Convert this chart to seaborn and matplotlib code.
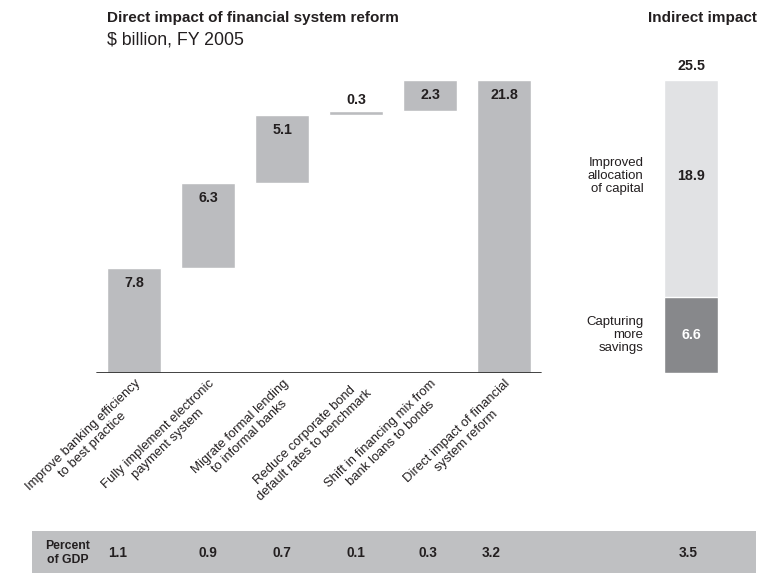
import matplotlib
matplotlib.use("Agg")
import matplotlib.pyplot as plt
import matplotlib.transforms as mtransforms
from matplotlib.patches import Rectangle
import seaborn as sns
import numpy as np

sns.set_theme(style="white")
plt.rcParams['font.family'] = ['Liberation Sans', 'DejaVu Sans']

# ---- data ----
categories = [
    "Improve banking efficiency\nto best practice",
    "Fully implement electronic\npayment system",
    "Migrate formal lending\nto informal banks",
    "Reduce corporate bond\ndefault rates to benchmark",
    "Shift in financing mix from\nbank loans to bonds",
    "Direct impact of financial\nsystem reform",
]
values = [7.8, 6.3, 5.1, 0.3, 2.3, 21.8]
value_labels = ["7.8", "6.3", "5.1", "0.3", "2.3", "21.8"]
pct_gdp = ["1.1", "0.9", "0.7", "0.1", "0.3", "3.2"]

indirect_parts = ["Capturing\nmore\nsavings", "Improved\nallocation\nof capital"]
indirect_values = [6.6, 18.9]
indirect_total = 25.5
indirect_pct = "3.5"

TXT = "#231f20"
BAR = "#bbbcbf"
LIGHT = "#e1e2e4"
DARK = "#87888b"
BAND = "#bfc0c2"

W, H = 774, 573
fig = plt.figure(figsize=(W / 100, H / 100), dpi=100)

def fx(px):
    return px / W

def fy(py):
    return 1 - py / H

# main axes
ax = fig.add_axes([fx(90), fy(373), fx(455), 313 / H])
bases = [0.0, values[0], values[0] + values[1], values[0] + values[1] + values[2],
         values[0] + values[1] + values[2] + values[3], 0.0]

sns.barplot(x=list(range(len(values))), y=values, bottom=bases, color=BAR,
            width=0.73, saturation=1, ax=ax, native_scale=True)
ax.set_xlim(-0.6, 5.55)
px_per_unit = 13.44
ax.set_ylim(0, 313 / px_per_unit)
for s in ax.spines.values():
    s.set_visible(False)
ax.axhline(0, xmin=(97 - 90) / 455, xmax=(541 - 90) / 455, color="#333333", lw=1.3)
ax.set_yticks([])
ax.set_xticks(range(len(categories)))
ax.set_xticklabels(categories, rotation=44, ha="right", rotation_mode="anchor",
                   fontsize=9.4, color=TXT, multialignment="center", linespacing=1.2)
ax.tick_params(axis="x", length=0, pad=3)

for i, (v, b, lab) in enumerate(zip(values, bases, value_labels)):
    top = b + v
    if v < 1:
        y = top + 11 / px_per_unit
    else:
        y = top - 15 / px_per_unit
    ax.text(i, y, lab, ha="center", va="center", fontsize=10.3, fontweight="bold", color=TXT)

# right axes (indirect)
ax2 = fig.add_axes([fx(638), fy(373), fx(106), 313 / H])
sns.barplot(x=[0], y=[indirect_total], color=LIGHT, width=1.02, saturation=1, ax=ax2,
            native_scale=True)
sns.barplot(x=[0], y=[indirect_values[0]], color=DARK, width=1.02, saturation=1, ax=ax2,
            native_scale=True)
ax2.set_xlim(-1, 1)
ppu2 = 11.49
ax2.set_ylim(0, 313 / ppu2)
ax2.axis("off")
ax2.text(0, indirect_total + 14 / ppu2, f"{indirect_total}", ha="center", va="center",
         fontsize=10.3, fontweight="bold", color=TXT)
y_alloc = indirect_values[0] + indirect_values[1] / 2 + 13 / ppu2
ax2.text(0, y_alloc, f"{indirect_values[1]}",
         ha="center", va="center", fontsize=10.3, fontweight="bold", color=TXT)
ax2.text(0, indirect_values[0] / 2, f"{indirect_values[0]}", ha="center", va="center",
         fontsize=10.3, fontweight="bold", color="white")
ax2.text(-0.9, y_alloc, indirect_parts[1],
         ha="right", va="center", fontsize=9.5, color=TXT, linespacing=1.12)
ax2.text(-0.9, indirect_values[0] / 2, indirect_parts[0],
         ha="right", va="center", fontsize=9.5, color=TXT, linespacing=1.12)

# titles
fig.text(fx(107), fy(18), "Direct impact of financial system reform", ha="left", va="center",
         fontsize=11, fontweight="bold", color=TXT)
fig.text(fx(107), fy(40), "$ billion, FY 2005", ha="left", va="center",
         fontsize=12.8, color=TXT)
fig.text(fx(757), fy(18), "Indirect impact", ha="right", va="center",
         fontsize=11, fontweight="bold", color=TXT)

# percent of GDP band
fig.patches.append(Rectangle((fx(32), 0), fx(756 - 32), (573 - 531) / H,
                             transform=fig.transFigure, facecolor=BAND, edgecolor="none",
                             zorder=0))
fig.text(fx(68), fy(553), "Percent\nof GDP", ha="center", va="center", fontsize=8.8,
         fontweight="bold", color=TXT, linespacing=1.15)
pct_x_px = [118, 208, 282, 356, 428, 491]
for xp, p in zip(pct_x_px, pct_gdp):
    fig.text(fx(xp), fy(553), p, ha="center", va="center", fontsize=9.8,
             fontweight="bold", color=TXT)
fig.text(fx(688), fy(553), indirect_pct, ha="center", va="center", fontsize=9.8,
         fontweight="bold", color=TXT)

fig.savefig("out.png", dpi=100)
